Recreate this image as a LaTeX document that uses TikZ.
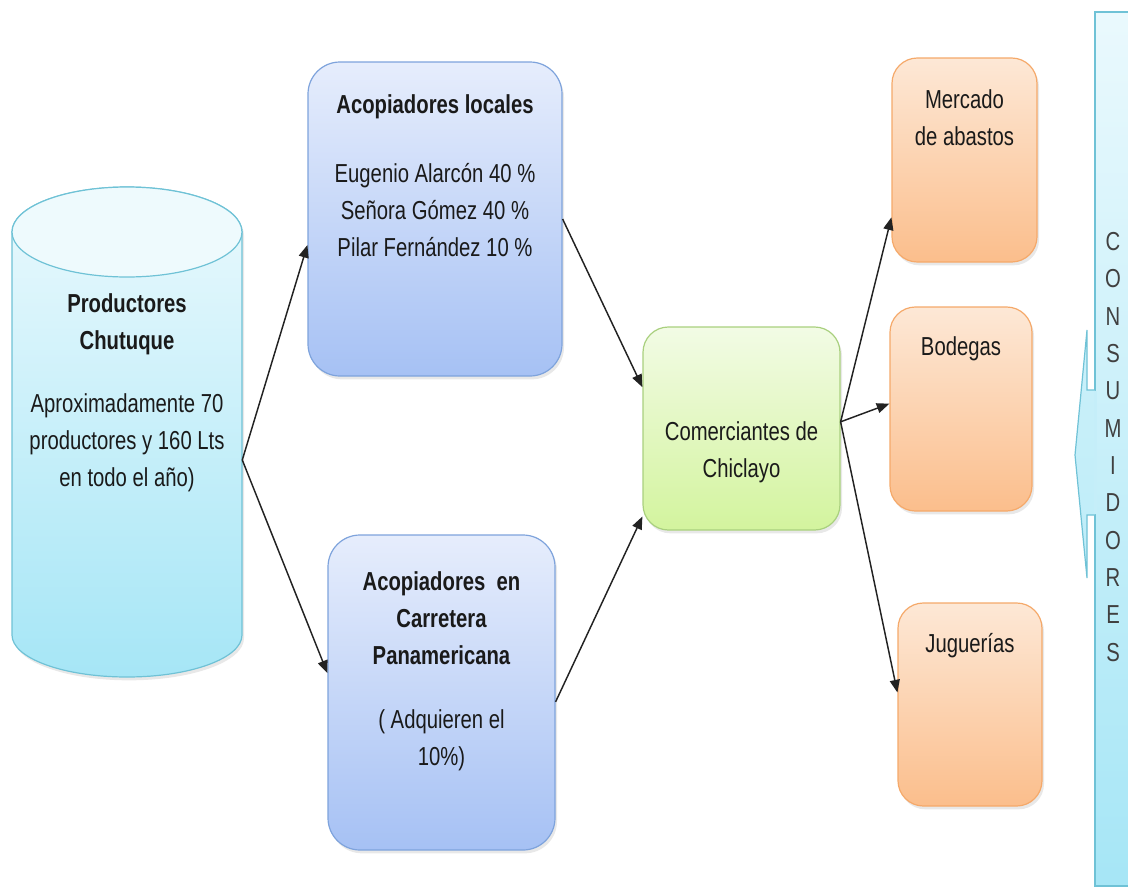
\documentclass[tikz,border=0pt]{standalone}
\usepackage{fontspec}
\newfontfamily\nf[FakeStretch=0.78]{Liberation Sans}
\usetikzlibrary{arrows.meta,shadows}
\definecolor{cylA}{HTML}{EAF9FD}
\definecolor{cylB}{HTML}{A6E6F6}
\definecolor{cylD}{HTML}{6FC2D6}
\definecolor{blA}{HTML}{E6EDFC}
\definecolor{blB}{HTML}{A6C1F4}
\definecolor{blD}{HTML}{7EA3DC}
\definecolor{grA}{HTML}{F2FBE5}
\definecolor{grB}{HTML}{D3F49E}
\definecolor{grD}{HTML}{A9D07E}
\definecolor{orA}{HTML}{FDE8D6}
\definecolor{orB}{HTML}{FBBE8C}
\definecolor{orD}{HTML}{F5A96A}
\definecolor{txc}{HTML}{1A1A1A}
\definecolor{arc}{HTML}{222222}
\begin{document}
\begin{tikzpicture}[x=0.75pt,y=-0.75pt,
  shad/.style={drop shadow={opacity=0.18,shadow xshift=1.5pt,shadow yshift=-2.5pt}},
  boxbase/.style={draw, line width=0.9pt, shad},
  bluebox/.style={boxbase, rounded corners=24pt, top color=blA, bottom color=blB, draw=blD},
  greenbox/.style={boxbase, rounded corners=19pt, top color=grA, bottom color=grB, draw=grD},
  orangebox/.style={boxbase, rounded corners=19pt, top color=orA, bottom color=orB, draw=orD},
  txt/.style={font=\nf\fontsize{19.5pt}{27.9pt}\selectfont, text=txc, align=center, inner sep=0pt},
  btxt/.style={txt, font=\nf\bfseries\fontsize{19.5pt}{27.9pt}\selectfont},
  arr/.style={draw=arc, line width=1.1pt, -{Triangle[length=9.5pt,width=7.5pt]}}
]
\useasboundingbox (0,0) rectangle (1128,893);

% ---- cylinder (Productores) ----
\node[minimum width=172.5pt, minimum height=367.5pt, inner sep=0pt] (prod) at (127,432) {};
\shadedraw[top color=cylA, bottom color=cylB, draw=cylD, line width=0.9pt, shad]
  (12,232) -- (12,635) arc[start angle=180, end angle=360, x radius=86.25pt, y radius=31.5pt]
  -- (242,232) arc[start angle=0, end angle=180, x radius=86.25pt, y radius=33.75pt] -- cycle;
\filldraw[fill=cylA!80!white, draw=cylD, line width=0.9pt]
  (127,232) ellipse[x radius=86.25pt, y radius=33.75pt];
\node[btxt] (prodT) at (127,324) {Productores\\Chutuque};
\node[txt] (prodS) at (127,443) {Aproximadamente 70\\productores y 160 Lts\\en todo el año)};

% ---- Acopiadores locales ----
\node[bluebox, minimum width=190.5pt, minimum height=235.5pt] (al) at (435,219) {};
\node[btxt] (alT) at (435,107) {Acopiadores locales};
\node[txt] (alS) at (435,210) {Eugenio Alarcón 40 \%\\Señora Gómez 40 \%\\Pilar Fernández 10 \%};

% ---- Acopiadores en Carretera ----
\node[bluebox, minimum width=170.25pt, minimum height=236.25pt] (cp) at (441.5,692.5) {};
\node[btxt] (cpT) at (441.5,618) {Acopiadores\ \ en\\Carretera\\Panamericana};
\node[txt] (cpS) at (441.5,740) {( Adquieren el\\10\%)};

% ---- Comerciantes ----
\node[greenbox, minimum width=147.75pt, minimum height=152.25pt] (cm) at (741.5,428.5) {};
\node[txt] (cmT) at (741.5,452) {Comerciantes de\\Chiclayo};

% ---- orange boxes ----
\node[orangebox, minimum width=108.75pt, minimum height=153pt] (me) at (964.5,160) {};
\node[txt] (meT) at (964.5,118) {Mercado\\de abastos};
\node[orangebox, minimum width=106.5pt, minimum height=153pt] (bo) at (961,409) {};
\node[txt] (boT) at (961,349) {Bodegas};
\node[orangebox, minimum width=108pt, minimum height=152.25pt] (ju) at (970,704.5) {};
\node[txt] (juT) at (970,646) {Juguerías};

% ---- Consumidores ----
\shade[top color=cylA, bottom color=cylB] (1095,12) rectangle (1128,886);
\draw[draw=cylD, line width=0.9pt] (1130,12) -- (1095,12) -- (1095,886) -- (1130,886);
\shadedraw[top color=cylA!55!cylB, bottom color=cylA!35!cylB, draw=cylD, line width=0.9pt]
  (1095,390) -- (1087,390) -- (1087,330) -- (1075,455) -- (1087,578) -- (1087,515) -- (1095,515);
\fill[cylA!45!cylB] (1094,391) rectangle (1097,514);
\node[txt, text=black!75, font=\nf\fontsize{19.5pt}{28pt}\selectfont] (cons) at (1113,447)
  {C\\O\\N\\S\\U\\M\\I\\D\\O\\R\\E\\S};

% ---- connectors ----
\draw[arr] ([yshift=-21pt]prod.east) -- ([yshift=-19.5pt]al.west);
\draw[arr] ([yshift=-21pt]prod.east) -- ([yshift=14.5pt]cp.west);
\draw[arr] (al.east) -- ([yshift=31pt]cm.west);
\draw[arr] ([yshift=-7pt]cp.east) -- ([yshift=-66pt]cm.west);
\draw[arr] ([yshift=5pt]cm.east) -- ([yshift=-43pt]me.west);
\draw[arr] ([yshift=5pt]cm.east) -- ([yshift=4pt]bo.west);
\draw[arr] ([yshift=5pt]cm.east) -- ([yshift=9pt]ju.west);
\end{tikzpicture}
\end{document}
